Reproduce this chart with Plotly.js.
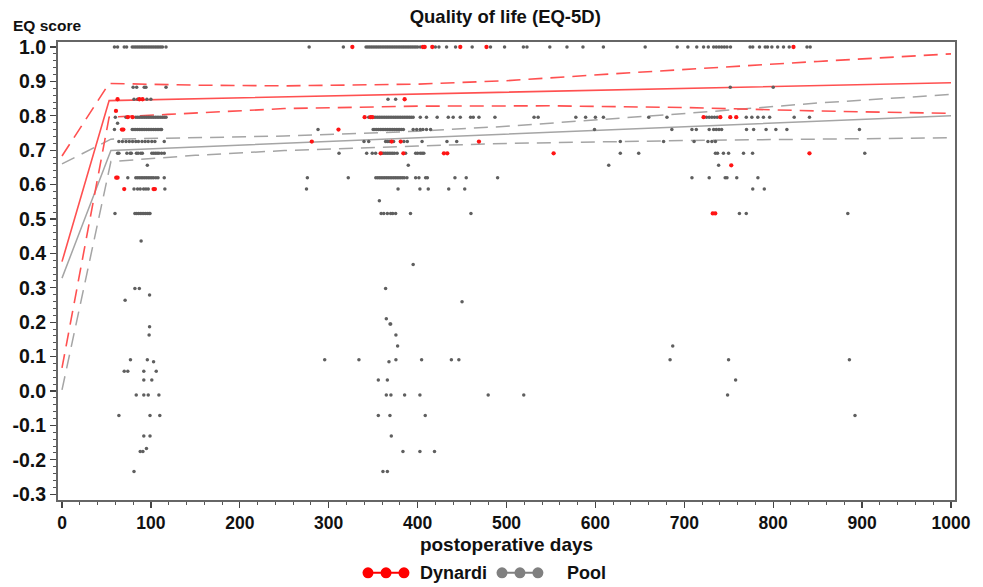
<!DOCTYPE html>
<html>
<head>
<meta charset="utf-8">
<script src="https://cdn.plot.ly/plotly-3.0.1.min.js"></script>
<style>html,body{margin:0;padding:0;background:#fff;}#chart{width:983px;height:587px;}</style>
</head>
<body>
<div id="chart"></div>
<script>
// ---- Data ----
const xTicks = [0, 100, 200, 300, 400, 500, 600, 700, 800, 900, 1000];
const yTicks = [-0.3, -0.2, -0.1, 0.0, 0.1, 0.2, 0.3, 0.4, 0.5, 0.6, 0.7, 0.8, 0.9, 1.0];

// Pool (grey) observations: EQ level and the days observed at that level
const poolEq = [1.0, 0.883, 0.848, 0.796, 0.778, 0.76, 0.725, 0.691, 0.656, 0.62, 0.587, 0.553, 0.516,
  0.436, 0.368, 0.298, 0.279, 0.264, 0.259, 0.21, 0.195, 0.187, 0.163, 0.131, 0.091, 0.085, 0.057, 0.032,
  -0.012, -0.071, -0.131, -0.167, -0.176, -0.234];
const poolDays = [
  [59, 62.5, 70, 72.7, 79, 81, 83, 85, 87, 89, 91, 93, 95, 97, 99, 101, 103, 105, 107, 109, 111, 113, 117,
   278, 316.5, 342, 344, 346, 348, 350, 352, 354, 356, 358, 360, 362, 364, 366, 368, 370, 372, 374, 376, 378,
   380, 382, 384, 386, 388, 390, 392, 394, 396, 398, 400, 403, 420, 424, 432.6, 442.7, 461.4, 482, 497.8,
   519, 523, 548.7, 568, 586, 609, 656, 692, 704, 714, 721.7, 727, 733, 736, 739, 742, 745, 748, 752, 774,
   777, 784.6, 791, 793.6, 798.5, 805, 811.6, 818, 838, 841.6],
  [80, 84, 92.5, 94.4, 117, 751.7, 800],
  [81, 85, 95.5, 100, 366.7, 375.3],
  [60, 72, 83, 85, 87, 89, 91, 93, 95, 97, 99, 101, 103, 105, 107, 109, 111, 113, 115, 117, 345, 351, 353,
   355, 357, 359, 361, 363, 365, 367, 369, 371, 373, 375, 377, 379, 381, 383, 385, 387, 389, 391, 393, 395,
   403, 410, 422, 434.5, 440, 448, 459.6, 462.6, 469, 487, 531, 535.6, 578, 589, 600, 609, 660, 680.5, 725,
   728, 731, 734, 737, 769.7, 776, 782.7, 789, 796, 823.6, 840.8],
  [62.5],
  [59, 79, 81, 83, 85, 87, 89, 91, 93, 95, 97, 99, 101, 103, 105, 107, 109, 111, 112, 288, 350, 352, 354,
   356, 358, 360, 362, 364, 366, 368, 370, 372, 374, 376, 378, 380, 382, 384, 395, 399, 403, 406, 410, 414.6,
   599, 686, 708.6, 713.5, 728, 733, 736, 739, 742, 770, 778, 792, 803, 815.4, 897],
  [64, 68, 72, 75.7, 79.4, 83, 86, 90, 93.5, 97, 101, 104.5, 115, 339.7, 345, 364, 366, 368, 373, 384.6,
   388.4, 405, 433, 444, 628, 676.7, 711, 726.6, 731, 735],
  [62.5, 64, 73, 76.6, 78, 83.7, 85.6, 88.6, 90.4, 101, 103, 105, 107, 109, 112, 115, 311.6, 342.7, 349,
   352.8, 360, 362, 364, 366, 368, 370, 372, 374, 377, 386.5, 397.8, 400, 403, 405, 407, 628, 648.7, 735,
   737.4, 744, 749.8, 766.6, 776.8, 903],
  [96, 389.5, 615, 738.6],
  [74, 83, 85, 87, 89, 91, 93, 95, 97, 99, 101, 103, 105.6, 108, 115, 276, 322, 353, 355, 357, 359, 361,
   363, 365, 367, 369, 371, 373, 375, 377, 379, 381, 383, 385, 388, 397.8, 401.5, 409, 411, 442, 454.7, 490,
   708.6, 728, 746, 748, 759, 782.8],
  [81, 85, 88, 91.8, 94.4, 97, 115.7, 275, 378, 402.6, 412, 435, 453, 777, 790],
  [357],
  [59.6, 82, 84, 86, 88, 90, 92, 94, 96, 98, 99, 359, 362, 366, 369.7, 372, 375.3, 392, 460, 762, 769.7, 883.9],
  [89],
  [395],
  [82, 87, 364],
  [98.5],
  [71],
  [450],
  [364.8],
  [369, 369.7],
  [98.5],
  [98, 375.6],
  [377.5, 687],
  [77, 96, 295.5, 334, 375.6, 404.5, 438, 446.4, 684, 749.8, 885.7],
  [103, 367.8],
  [70, 74, 92, 106],
  [92, 101, 355.8, 366, 757.7],
  [83.5, 92, 97, 109, 364.8, 370, 385.4, 402.6, 479.4, 519.4, 748.7],
  [64, 99, 110, 355.8, 368.9, 408.6, 892],
  [92, 99, 370.4],
  [95],
  [88, 91, 383.5, 402.6, 419],
  [81, 361, 366]
];

// Dynardi (red) observations
const dynEq = [1.0, 0.848, 0.814, 0.796, 0.76, 0.725, 0.691, 0.656, 0.62, 0.587, 0.516];
const dynDays = [
  [326.6, 406, 408, 416.5, 448, 477.5, 822.8],
  [62.5, 87, 90.6, 385.4],
  [60.7],
  [74, 79.4, 340.4, 347, 349, 721.7, 740.5, 751.7, 758.4],
  [67.4, 69, 311],
  [281, 370.8, 381, 469],
  [358.4, 384, 429.6, 433.4, 553, 840.8],
  [752.8],
  [61, 62.5],
  [70, 103, 104.5],
  [732, 734.8]
];

// Fitted curves and confidence limits
const dynFitDays = [0, 53, 1000];
const dynFit = [0.376, 0.844, 0.896];
const dynUpDays = [0, 53, 150, 250, 400, 500, 620, 730, 850, 1000];
const dynUp = [0.683, 0.894, 0.889, 0.887, 0.892, 0.902, 0.922, 0.940, 0.958, 0.980];
const dynLoDays = [0, 53, 119, 250, 400, 550, 700, 850, 1000];
const dynLo = [0.067, 0.796, 0.804, 0.821, 0.828, 0.829, 0.824, 0.814, 0.807];

const poolFitDays = [0, 55, 1000];
const poolFit = [0.328, 0.699, 0.800];
const poolUpDays = [0, 55, 250, 400, 504, 617, 729, 850, 1000];
const poolUp = [0.660, 0.732, 0.741, 0.755, 0.770, 0.790, 0.812, 0.837, 0.862];
const poolLoDays = [0, 55, 150, 250, 400, 504, 729, 1000];
const poolLo = [0.003, 0.667, 0.685, 0.699, 0.712, 0.720, 0.729, 0.736];

// ---- Build traces ----
function flatten(levels, days) {
  const x = [], y = [];
  levels.forEach((v, i) => days[i].forEach(d => { x.push(d); y.push(v); }));
  return {x, y};
}
const pool = flatten(poolEq, poolDays);
const dyn = flatten(dynEq, dynDays);

const RED = 'rgb(255,80,80)';
const GREY = 'rgb(165,165,165)';
const dashPat = '14px,8px';

const traces = [
  {x: poolUpDays, y: poolUp, mode: 'lines', line: {color: GREY, width: 1.5, dash: dashPat}, hoverinfo: 'skip'},
  {x: poolLoDays, y: poolLo, mode: 'lines', line: {color: GREY, width: 1.5, dash: dashPat}, hoverinfo: 'skip'},
  {x: poolFitDays, y: poolFit, mode: 'lines', line: {color: GREY, width: 1.5}, hoverinfo: 'skip'},
  {x: dynUpDays, y: dynUp, mode: 'lines', line: {color: RED, width: 1.6, dash: dashPat}, hoverinfo: 'skip'},
  {x: dynLoDays, y: dynLo, mode: 'lines', line: {color: RED, width: 1.6, dash: dashPat}, hoverinfo: 'skip'},
  {x: dynFitDays, y: dynFit, mode: 'lines', line: {color: RED, width: 1.6}, hoverinfo: 'skip'},
  {x: pool.x, y: pool.y, mode: 'markers', name: 'Pool',
   marker: {color: 'rgb(95,95,95)', size: 3.5, symbol: 'circle'}},
  {x: dyn.x, y: dyn.y, mode: 'markers', name: 'Dynardi',
   marker: {color: 'rgb(255,20,20)', size: 4.3, symbol: 'circle'}}
];

const BOLD = {family: 'Liberation Sans, Arial, sans-serif', color: '#111', weight: 'bold'};

// custom legend (three dots joined by a line), in paper coordinates
const legY = -0.159;
const redDots = [0.3456, 0.3657, 0.3857];
const greyDots = [0.4950, 0.5150, 0.5350];
const shapes = [];
function legendGroup(xs, col) {
  shapes.push({type: 'line', xref: 'paper', yref: 'paper', x0: xs[0], x1: xs[2], y0: legY, y1: legY,
               line: {color: col, width: 2}});
  xs.forEach(x => shapes.push({type: 'circle', xref: 'paper', yref: 'paper', xsizemode: 'pixel', ysizemode: 'pixel',
    xanchor: x, yanchor: legY, x0: -5.5, x1: 5.5, y0: -5.5, y1: 5.5, fillcolor: col, line: {color: col, width: 0}}));
}
legendGroup(redDots, 'rgb(255,0,0)');
legendGroup(greyDots, 'rgb(128,128,128)');

const layout = {
  width: 983, height: 587,
  margin: {l: 58, r: 28, t: 42, b: 87},
  paper_bgcolor: '#fff', plot_bgcolor: '#fff',
  showlegend: false,
  title: {text: 'Quality of life (EQ-5D)', x: 0.514, xanchor: 'center', y: 0.972, yanchor: 'middle',
          font: Object.assign({}, BOLD, {size: 18.5})},
  xaxis: {
    range: [-4.5, 1004.5], tickvals: xTicks, ticktext: xTicks.map(String),
    showgrid: false, zeroline: false, showline: true, linecolor: '#666', linewidth: 2, mirror: true,
    ticks: 'outside', ticklen: 6, tickwidth: 1.2, tickcolor: '#444',
    minor: {dtick: 20, ticks: 'outside', ticklen: 3, tickcolor: '#555', tickwidth: 1},
    tickfont: Object.assign({}, BOLD, {size: 17.5}),
    title: {text: 'postoperative days', standoff: 6, font: Object.assign({}, BOLD, {size: 19})}
  },
  yaxis: {
    range: [-0.317, 1.0145], tickvals: yTicks, ticktext: yTicks.map(v => v.toFixed(1)),
    showgrid: false, zeroline: false, showline: true, linecolor: '#666', linewidth: 2, mirror: true,
    ticks: 'outside', ticklen: 6, tickwidth: 1.2, tickcolor: '#444',
    minor: {dtick: 0.02, ticks: 'outside', ticklen: 3, tickcolor: '#555', tickwidth: 1},
    tickfont: Object.assign({}, BOLD, {size: 19.5})
  },
  shapes: shapes,
  annotations: [
    {text: 'EQ score', xref: 'paper', yref: 'paper', x: -0.052, y: 1.035, xanchor: 'left', yanchor: 'middle',
     showarrow: false, font: Object.assign({}, BOLD, {size: 15.5})},
    {text: 'Dynardi', xref: 'paper', yref: 'paper', x: 0.401, y: legY, xanchor: 'left', yanchor: 'middle',
     showarrow: false, font: Object.assign({}, BOLD, {size: 18})},
    {text: 'Pool', xref: 'paper', yref: 'paper', x: 0.565, y: legY, xanchor: 'left', yanchor: 'middle',
     showarrow: false, font: Object.assign({}, BOLD, {size: 18})}
  ]
};

Plotly.newPlot('chart', traces, layout, {staticPlot: true, displayModeBar: false});
</script>
</body>
</html>
